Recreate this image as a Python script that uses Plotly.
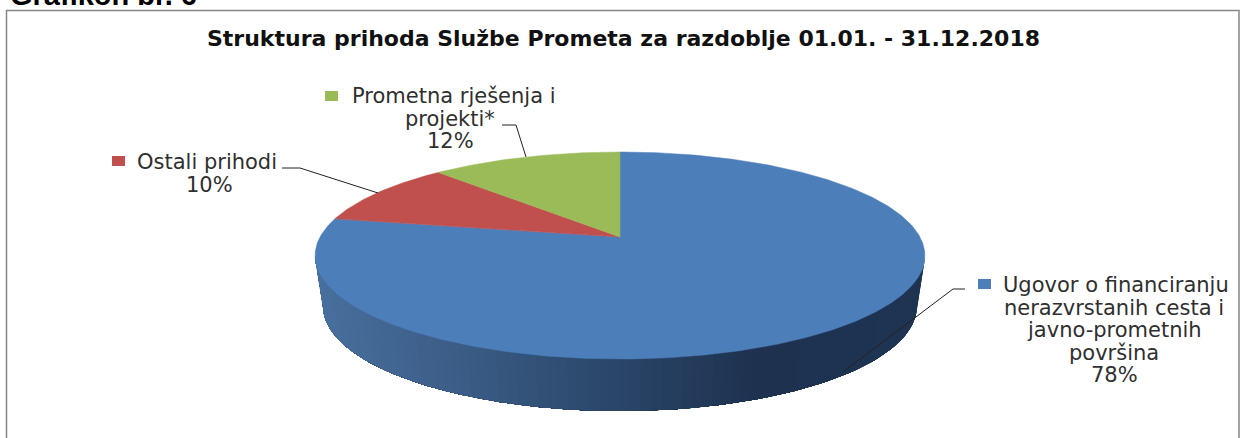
import numpy as np
import plotly.graph_objects as go

title = "Struktura prihoda Službe Prometa za razdoblje 01.01. - 31.12.2018"
heading = "Grafikon br. 6"
categories = [["Ugovor o financiranju", "nerazvrstanih cesta i", "javno-prometnih", "površina"],
              ["Ostali prihodi"], ["Prometna rješenja i", "projekti*"]]
values = [78, 10, 12]
colors = ["#4C7EBA", "#C0504D", "#9BBB59"]

# pie geometry, in page pixels (axes run 1:1 with the page)
APEX_X, APEX_Y = 620, 237
K = 37 / 207
A_X, A_Y = 300, 100.2
ELL_CY, ELL_RX, ELL_RY = 255.5, 305, 103.5
BOT_CY, BOT_RX, BOT_RY = 306, 297, 105


def project(theta):
    """Perspective view of a circle; theta runs clockwise from the back."""
    u, v = np.sin(theta), np.cos(theta)
    d = 1 + K * v
    return APEX_X + A_X * u / d, APEX_Y - A_Y * v / d


def side_colour(x):
    xs = [315, 450, 620, 760, 925]
    r = np.interp(x, xs, [72, 60, 42, 30, 30])
    g = np.interp(x, xs, [112, 94, 70, 50, 52])
    b = np.interp(x, xs, [158, 136, 105, 80, 82])
    return f"rgb({r:.0f},{g:.0f},{b:.0f})"


fig = go.Figure()

# front wall of the disc: painted right to left, each layer covering the rest
phis = np.linspace(0, np.pi, 91)
for i in range(len(phis) - 1):
    ph = phis[i:]
    xt = APEX_X + ELL_RX * np.cos(ph)
    yt = ELL_CY + ELL_RY * np.sin(ph)
    xb = APEX_X + BOT_RX * np.cos(ph[::-1])
    yb = BOT_CY + BOT_RY * np.sin(ph[::-1])
    c = side_colour(APEX_X + ELL_RX * np.cos(phis[i]))
    fig.add_trace(go.Scatter(x=np.r_[xt, xb], y=np.r_[yt, yb], mode="lines", fill="toself",
                             fillcolor=c, line=dict(color=c, width=0),
                             hoverinfo="skip", showlegend=False))

# slices
total = sum(values)
start = 0.0
for cat, val, col in zip(categories, values, colors):
    end = start + val / total * 2 * np.pi
    th = np.linspace(start, end, max(int(val * 6), 12))
    x, y = project(th)
    fig.add_trace(go.Scatter(x=np.r_[APEX_X, x, APEX_X], y=np.r_[APEX_Y, y, APEX_Y],
                             mode="lines", fill="toself", fillcolor=col,
                             line=dict(color=col, width=0.5),
                             name=" ".join(cat), hoverinfo="name", showlegend=False))
    start = end

label_font = dict(family="DejaVu Sans", size=21, color="#2f2f2f")
shapes = [dict(type="rect", x0=6.5, y0=10.5, x1=1239, y1=460, line=dict(color="#868686", width=1.5),
               layer="below")]
annotations = [
    dict(x=8, y=13, text=f"<b>{heading}</b>", xanchor="left", yanchor="bottom", showarrow=False,
         font=dict(family="Liberation Sans", size=29, color="#000000")),
    dict(x=623, y=38, text=f"<b>{title}</b>", xanchor="center", yanchor="middle", showarrow=False,
         font=dict(family="DejaVu Sans", size=22, color="#111111")),
]

# label block: centre x of first line, centre x of the rest, first line y; key; leader polyline
label_pos = [(1115.5, 1114, 285), (206.5, 209, 162), (454, 450, 96)]
line_pitch = 22.6
keys = [(978, 279), (112, 156), (325, 91)]
leaders = [
    ([965, 953, 843], [289, 289, 372]),
    ([282, 300, 378], [168, 168, 193]),
    ([502, 516, 526], [125, 125, 157]),
]
for cat, val, col, (fx, lx, ly), (kx, ky), (xs, ys) in zip(categories, values, colors, label_pos, keys, leaders):
    lines = cat + [f"{val}%"]
    for n, line in enumerate(lines):
        annotations.append(dict(x=fx if n == 0 else lx, y=ly + n * line_pitch, text=line,
                                xanchor="center", yanchor="middle",
                                showarrow=False, font=label_font))
    shapes.append(dict(type="rect", x0=kx, y0=ky, x1=kx + 13, y1=ky + 10, fillcolor=col,
                       line=dict(width=0)))
    fig.add_trace(go.Scatter(x=xs, y=ys, mode="lines", line=dict(color="#222222", width=1),
                             hoverinfo="skip", showlegend=False))

fig.update_layout(
    width=1244, height=438, margin=dict(l=0, r=0, t=0, b=0),
    paper_bgcolor="white", plot_bgcolor="white", showlegend=False,
    xaxis=dict(range=[0, 1244], visible=False, fixedrange=True),
    yaxis=dict(range=[438, 0], visible=False, fixedrange=True),
    shapes=shapes, annotations=annotations,
)
fig.write_html("out.html", config=dict(displayModeBar=False),
               post_script="document.body.style.margin='0';document.body.style.overflow='hidden';")
